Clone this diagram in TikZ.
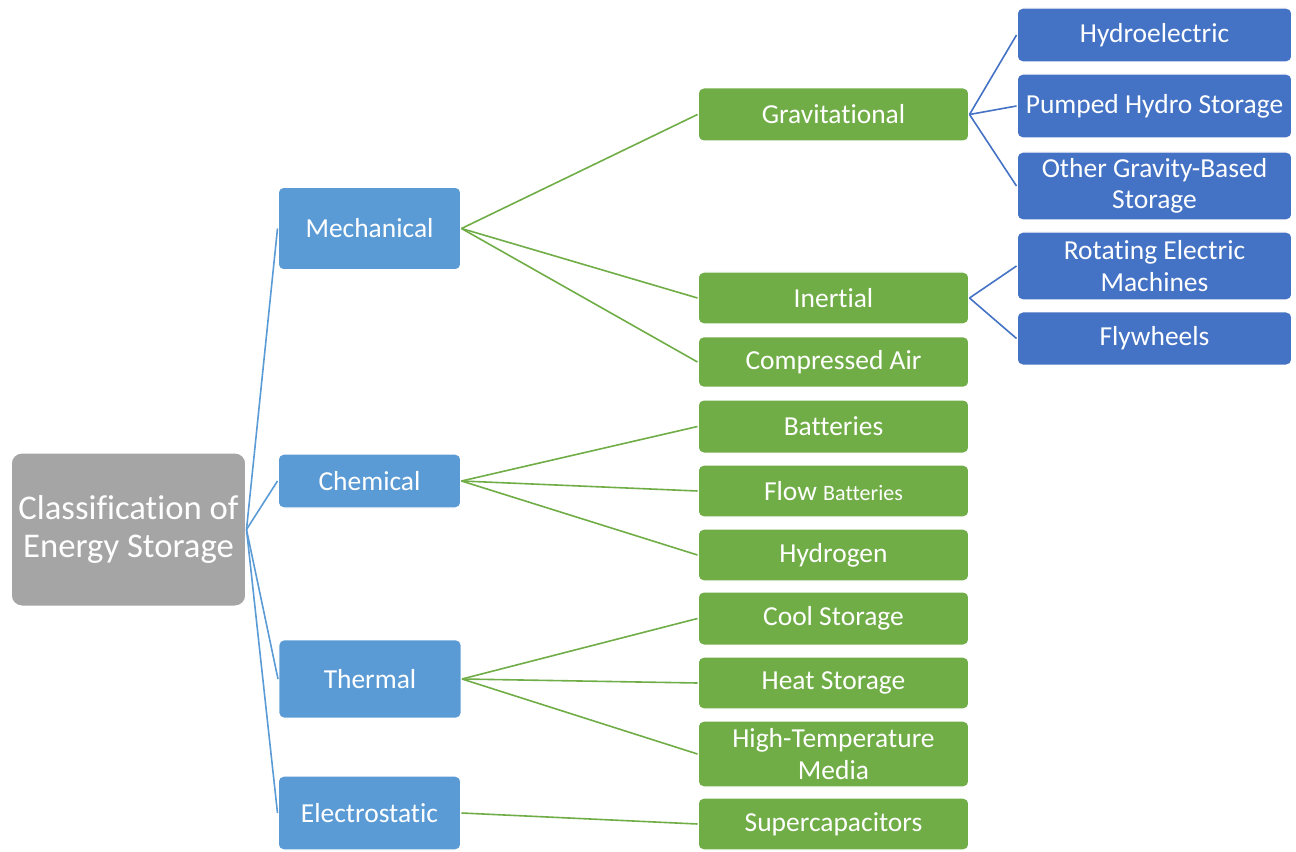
\documentclass[tikz,border=0pt]{standalone}
\usepackage{fontspec}
\setmainfont{Carlito}[RawFeature={-liga;-clig;-calt;-dlig}]
\definecolor{rootgray}{HTML}{A5A5A5}
\definecolor{catblue}{HTML}{5B9BD5}
\definecolor{subgreen}{HTML}{70AD47}
\definecolor{leafblue}{HTML}{4472C4}
\tikzset{
	box/.style={rounded corners=4pt, draw=white, line width=1pt, text=white, align=center, inner sep=0pt, font=\fontsize{20.6}{23.5}\selectfont},
	rootbox/.style={box, rounded corners=8pt, fill=rootgray, minimum width=176pt, minimum height=115pt, font=\fontsize{26}{28.5}\selectfont},
	catbox/.style={box, fill=catblue, minimum width=137pt},
	subbox/.style={box, fill=subgreen, minimum width=203pt},
	leafbox/.style={box, fill=leafblue, minimum width=206pt},
	catline/.style={draw=catblue, line width=1.2pt},
	subline/.style={draw=subgreen, line width=1.2pt},
	leafline/.style={draw=leafblue, line width=1.2pt}
}
\begin{document}
\begin{tikzpicture}[x=0.75pt, y=-0.75pt]
	\useasboundingbox (0,0) rectangle (1296,852);

	% root
	\node[rootbox] (root) at (128.5,529.5) {Classification of\\Energy Storage};

	% categories
	\node[catbox, minimum height=62pt] (mech) at (369.5,228.5) {Mechanical};
	\node[catbox, minimum height=40.5pt] (chem) at (369.5,481) {Chemical};
	\node[catbox, minimum height=59pt] (therm) at (370,679) {Thermal};
	\node[catbox, minimum height=55.5pt] (elec) at (369.5,813) {Electrostatic};

	% second level
	\node[subbox, minimum height=40pt] (grav) at (833.5,114.5) {Gravitational};
	\node[subbox, minimum height=39pt] (inert) at (833.5,298) {Inertial};
	\node[subbox, minimum height=38pt] (comp) at (833.5,362) {Compressed Air};
	\node[subbox, minimum height=40pt] (batt) at (833.5,426.5) {Batteries};
	\node[subbox, minimum height=39pt] (flow) at (833.5,491) {Flow {\fontsize{16.5}{19}\selectfont Batteries}};
	\node[subbox, minimum height=39pt] (hydro) at (833.5,555) {Hydrogen};
	\node[subbox, minimum height=40pt] (cool) at (833.5,618.5) {Cool Storage};
	\node[subbox, minimum height=39pt] (heat) at (833.5,683) {Heat Storage};
	\node[subbox, minimum height=49.5pt] (hitemp) at (833.5,754) {High-Temperature\\Media};
	\node[subbox, minimum height=39pt] (super) at (833.5,824) {Supercapacitors};

	% third level
	\node[leafbox, minimum height=40.5pt] (hydel) at (1154.5,35) {Hydroelectric};
	\node[leafbox, minimum height=48pt] (pump) at (1154.5,106) {Pumped Hydro Storage};
	\node[leafbox, minimum height=51pt] (other) at (1154.5,186) {Other Gravity-Based\\Storage};
	\node[leafbox, minimum height=51pt] (rot) at (1154.5,266) {Rotating Electric\\Machines};
	\node[leafbox, minimum height=40pt] (fly) at (1154.5,338.5) {Flywheels};

	% connectors
	\foreach \c in {mech,chem,therm,elec}
		\draw[catline] (root.east) -- (\c.west);
	\foreach \s in {grav,inert,comp}
		\draw[subline] (mech.east) -- (\s.west);
	\foreach \s in {batt,flow,hydro}
		\draw[subline] (chem.east) -- (\s.west);
	\foreach \s in {cool,heat,hitemp}
		\draw[subline] (therm.east) -- (\s.west);
	\draw[subline] (elec.east) -- (super.west);
	\foreach \l in {hydel,pump,other}
		\draw[leafline] (grav.east) -- (\l.west);
	\foreach \l in {rot,fly}
		\draw[leafline] (inert.east) -- (\l.west);
\end{tikzpicture}
\end{document}
